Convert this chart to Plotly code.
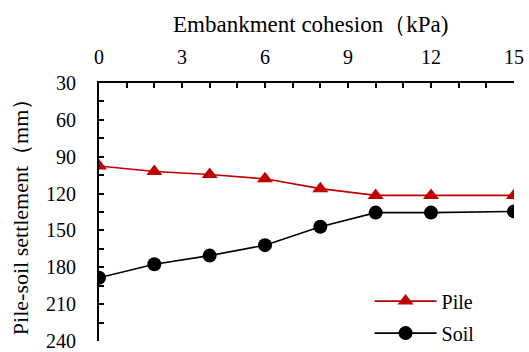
import plotly.graph_objects as go

cohesion = [0, 2, 4, 6, 8, 10, 12, 15]
pile = [97.5, 102, 104.5, 108, 116, 121.5, 121.5, 121.5]
soil = [188.5, 177.5, 170.5, 162, 147, 135.5, 135.5, 134.5]
x_ticks = [0, 3, 6, 9, 12, 15]
y_ticks = [30, 60, 90, 120, 150, 180, 210, 240]

FONT = "Liberation Serif"
RED = "#C00000"

fig = go.Figure()
fig.add_trace(go.Scatter(x=cohesion, y=pile, name="Pile", mode="lines+markers",
                         legendgroup="a",
                         line=dict(color=RED, width=1.6),
                         marker=dict(symbol="triangle-up", size=14, color=RED)))
fig.add_trace(go.Scatter(x=cohesion, y=soil, name="Soil", mode="lines+markers",
                         legendgroup="b",
                         line=dict(color="black", width=1.6),
                         marker=dict(symbol="circle", size=14, color="black")))

fig.update_layout(
    width=529, height=352,
    margin=dict(l=99, r=15, t=83, b=11, autoexpand=False),
    paper_bgcolor="white", plot_bgcolor="white",
    font=dict(family=FONT, size=20, color="black"),
    showlegend=True,
    legend=dict(x=0.652, y=-0.045, xanchor="left", yanchor="bottom",
                bgcolor="rgba(255,255,255,0)", font=dict(family=FONT, size=20),
                tracegroupgap=3, itemwidth=62),
    xaxis=dict(side="top", range=[0, 15], tickvals=x_ticks,
               ticktext=[str(v) for v in x_ticks],
               ticks="inside", ticklen=5, tickwidth=1.5, tickcolor="black",
               ticklabelstandoff=9, ticklabeloverflow="allow",
               minor=dict(dtick=1, ticks="inside", ticklen=5, tickwidth=1.5, tickcolor="black"),
               showline=True, linecolor="black", linewidth=2,
               showgrid=False, zeroline=False,
               tickfont=dict(family=FONT, size=20)),
    yaxis=dict(range=[240, 30], tickvals=y_ticks,
               ticks="inside", ticklen=5, tickwidth=1.5, tickcolor="black",
               ticklabelstandoff=17, ticklabeloverflow="allow",
               minor=dict(dtick=15, tick0=30, ticks="inside", ticklen=5, tickwidth=1.5, tickcolor="black"),
               showline=True, linecolor="black", linewidth=2,
               showgrid=False, zeroline=False,
               tickfont=dict(family=FONT, size=20)),
    annotations=[
        dict(text="Embankment cohesion（kPa)",
             xref="paper", yref="paper", x=0.51, y=1.0, yshift=59,
             xanchor="center", yanchor="middle", showarrow=False,
             font=dict(family=FONT, size=23)),
        dict(text="Pile-soil settlement（mm）", textangle=-90,
             xref="paper", yref="paper", x=-0.19, y=0.50,
             xanchor="center", yanchor="middle", showarrow=False,
             font=dict(family=FONT, size=22)),
    ],
)

fig.write_html("out.html", config={"displayModeBar": False},
               post_script="document.body.style.margin='0';")
